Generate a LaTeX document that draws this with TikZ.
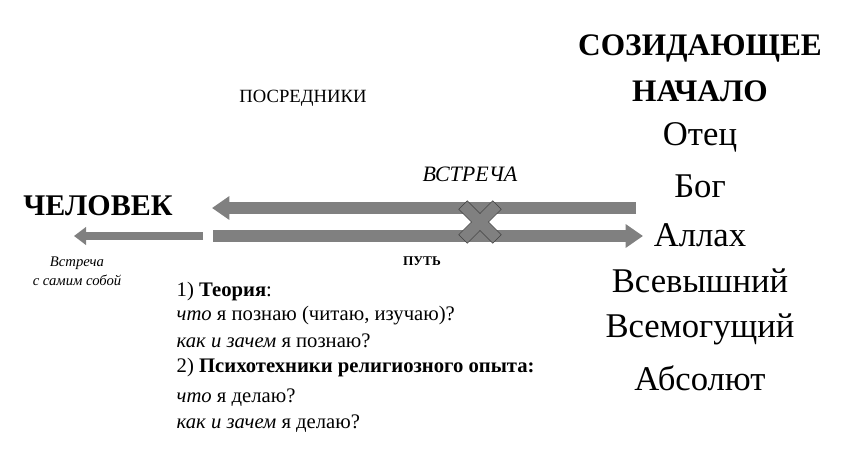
\documentclass[tikz,border=0pt]{standalone}
\usepackage{fontspec}
\setmainfont{Liberation Serif}
\usetikzlibrary{arrows.meta}
\begin{document}
\begin{tikzpicture}[x=0.75pt,y=-0.75pt,
  big/.style={font=\fontsize{26}{30}\selectfont},
  bar/.style={draw=gray, line width=9pt, -{Triangle[length=13pt,width=17pt]}},
  thin/.style={draw=gray, line width=6.5pt, -{Triangle[length=9pt,width=13pt]}},
  txt/.style={font=\fontsize{15.5}{17}\selectfont, anchor=west}]
\useasboundingbox (0,0) rectangle (852,453);
\node[font=\bfseries\fontsize{23.5}{26}\selectfont] (t1) at (700,48) {СОЗИДАЮЩЕЕ};
\node[font=\bfseries\fontsize{23.5}{26}\selectfont] (t2) at (700,91) {НАЧАЛО};
\node[big] (n1) at (700,137) {Отец};
\node[big] (n2) at (700,186) {Бог};
\node[big] (n3) at (700,235) {Аллах};
\node[big] (n4) at (700,281) {Всевышний};
\node[big] (n5) at (700,329) {Всемогущий};
\node[big] (n6) at (700,378) {Абсолют};
\node[font=\fontsize{14}{16}\selectfont] (pos) at (303,98) {ПОСРЕДНИКИ};
\node[font=\itshape\fontsize{16.5}{18}\selectfont] (vs) at (470,174) {ВСТРЕЧА};
\node[font=\bfseries\fontsize{22.5}{24}\selectfont] (ch) at (98,206) {ЧЕЛОВЕК};
\node[font=\bfseries\fontsize{10}{11}\selectfont] (put) at (422,261) {ПУТЬ};
\node[font=\itshape\fontsize{11}{14}\selectfont, align=center] (sam) at (77,271) {Встреча\\с самим собой};
\coordinate (a1) at (636,208); \coordinate (a2) at (212,208);
\coordinate (b1) at (213,236); \coordinate (b2) at (643,236);
\coordinate (c1) at (203,236); \coordinate (c2) at (74,236);
\draw[bar] (a1) -- (a2);
\draw[bar] (b1) -- (b2);
\draw[thin] (c1) -- (c2);
\node[fill=gray, draw=gray!50!black, line width=0.4pt, minimum width=36pt, minimum height=9pt, rotate=45, inner sep=0pt] (x1) at (480,222) {};
\node[fill=gray, draw=gray!50!black, line width=0.4pt, minimum width=36pt, minimum height=9pt, rotate=-45, inner sep=0pt] (x2) at (480,222) {};
\node[fill=gray, minimum width=34pt, minimum height=8.2pt, rotate=45, inner sep=0pt] (x3) at (480,222) {};
\node[txt] (l1) at (172,292) {1) \textbf{Теория}:};
\node[txt] (l2) at (172,316) {\textit{что} я познаю (читаю, изучаю)?};
\node[txt] (l3) at (172,341) {\textit{как и зачем} я познаю?};
\node[txt] (l4) at (172,368) {2) \textbf{Психотехники религиозного опыта:}};
\node[txt] (l5) at (172,398) {\textit{что} я делаю?};
\node[txt] (l6) at (172,424) {\textit{как и зачем} я делаю?};
\end{tikzpicture}
\end{document}
